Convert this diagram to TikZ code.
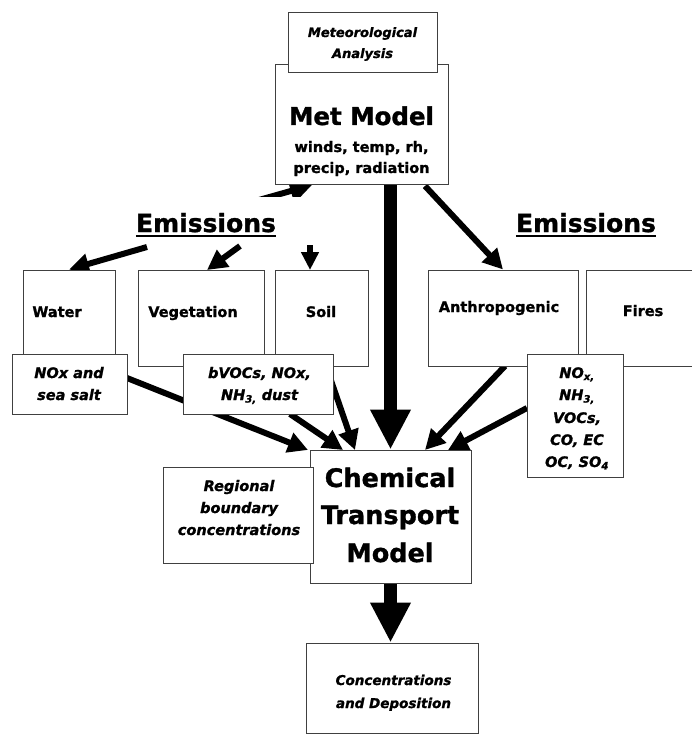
\documentclass[tikz,border=0pt]{standalone}
\usepackage{fontspec}
\setmainfont{DejaVu Sans}[BoldFeatures={FakeBold=1.2},BoldItalicFeatures={FakeBold=1.2}]
\usetikzlibrary{arrows.meta,calc}
\pgfdeclarelayer{back}
\pgfdeclarelayer{bg}
\pgfsetlayers{back,bg,main}
\begin{document}
\begin{tikzpicture}[x=1pt,y=-1pt,
  box/.style={draw=black!75,line width=1pt,fill=white,inner sep=0pt,rectangle},
  txt/.style={inner sep=0pt,anchor=base,font=\fontsize{14.5}{14.5}\selectfont\bfseries},
  itxt/.style={inner sep=0pt,anchor=base,font=\fontsize{14.5}{14.5}\selectfont\bfseries\itshape},
  bigtxt/.style={inner sep=0pt,anchor=base,font=\fontsize{25}{25}\selectfont\bfseries},
  arr/.style={line width=6pt,-{Triangle[length=20pt,width=20pt]}},
  bigarr/.style={line width=13pt,-{Triangle[length=40pt,width=38pt]}},
]
\useasboundingbox (0,0) rectangle (691,735);
\begin{pgfonlayer}{back}
\fill[white] (0,0) rectangle (691,735);
\end{pgfonlayer}

% ---------- boxes ----------
\node[box,minimum width=173,minimum height=120] (met) at (361.5,125) {};
\node[box,minimum width=149,minimum height=60] (metan) at (362.5,43) {};

\node[box,minimum width=92,minimum height=96] (water) at (69,318) {};
\node[box,minimum width=126,minimum height=96] (veg) at (201,318) {};
\node[box,minimum width=93,minimum height=96] (soil) at (321.5,318) {};
\node[box,minimum width=150,minimum height=96] (anth) at (503,318) {};
\node[box,minimum width=114,minimum height=96] (fires) at (643,318) {};

\node[box,minimum width=115,minimum height=60] (noxw) at (69.5,384) {};
\node[box,minimum width=150,minimum height=60] (bvoc) at (258,384) {};
\node[box,minimum width=96,minimum height=123] (noxr) at (575,415.5) {};

\node[box,minimum width=161,minimum height=133] (ctm) at (390.5,516.5) {};
\node[box,minimum width=150,minimum height=96] (reg) at (238,515) {};
\node[box,minimum width=172,minimum height=90] (conc) at (392,688) {};

% ---------- texts ----------
\node[itxt,font=\fontsize{13}{13}\selectfont\bfseries\itshape] (tma1) at (362.5,37) {Meteorological};
\node[itxt,font=\fontsize{13}{13}\selectfont\bfseries\itshape] (tma2) at (362.5,58) {Analysis};
\node[bigtxt,font=\fontsize{24.5}{24.5}\selectfont\bfseries] (tmet1) at (361.5,125) {Met Model};
\node[txt] (tmet2) at (361.5,152) {winds, temp, rh,};
\node[txt] (tmet3) at (361.5,173) {precip, radiation};

\node[bigtxt] (emL) at (206,232) {Emissions};
\node[bigtxt] (emR) at (586,232) {Emissions};
\draw[line width=2pt] ($(emL.base west)+(0,4)$) -- ($(emL.base east)+(0,4)$);
\draw[line width=2pt] ($(emR.base west)+(0,4)$) -- ($(emR.base east)+(0,4)$);

\node[txt] (twater) at (57,317) {Water};
\node[txt] (tveg) at (193,317) {Vegetation};
\node[txt] (tsoil) at (321,317) {Soil};
\node[txt] (tanth) at (499,312) {Anthropogenic};
\node[txt] (tfires) at (643,316) {Fires};

\node[itxt] (tnw1) at (69,378) {NOx and};
\node[itxt] (tnw2) at (69,400) {sea salt};
\node[itxt] (tbv1) at (259.5,378) {bVOCs, NOx,};
\node[itxt] (tbv2) at (259.5,400) {NH\textsubscript{3,} dust};

\node[itxt] (tnr1) at (577,378) {NO\textsubscript{x,}};
\node[itxt] (tnr2) at (577,400) {NH\textsubscript{3,}};
\node[itxt] (tnr3) at (577,423) {VOCs,};
\node[itxt] (tnr4) at (577,445) {CO, EC};
\node[itxt] (tnr5) at (577,467) {OC, SO\textsubscript{4}};

\node[bigtxt,font=\fontsize{25.5}{25.5}\selectfont\bfseries] (tct1) at (390,487) {Chemical};
\node[bigtxt,font=\fontsize{25.5}{25.5}\selectfont\bfseries] (tct2) at (390,524) {Transport};
\node[bigtxt,font=\fontsize{25.5}{25.5}\selectfont\bfseries] (tct3) at (390,562) {Model};

\node[itxt] (trg1) at (239,491) {Regional};
\node[itxt] (trg2) at (239,513) {boundary};
\node[itxt] (trg3) at (239,535) {concentrations};

\node[itxt,font=\fontsize{13.5}{13.5}\selectfont\bfseries\itshape] (tcd1) at (393.5,685) {Concentrations};
\node[itxt,font=\fontsize{13.5}{13.5}\selectfont\bfseries\itshape] (tcd2) at (393.5,708) {and Deposition};

% ---------- connectors ----------
\coordinate (sWater) at (147,247);
\coordinate (sVeg) at (240,246);
\coordinate (eVeg) at (207,270);
\coordinate (sSoil) at (310,245);
\coordinate (eSoil) at (310,270);
\coordinate (sAnth) at (425,186);
\coordinate (sUp) at (220,211);
\coordinate (eUp) at (312,185);
\coordinate (sBig) at (390.5,185);
\coordinate (sNw) at (127,378);
\coordinate (eNw) at (308,450);
\coordinate (sBv) at (290,414);
\coordinate (eBv) at (343,450);
\coordinate (sSo) at (326,366);
\coordinate (eSo) at (355,450);
\coordinate (sAn) at (505,366);
\coordinate (eAn) at (425,450);
\coordinate (sNr) at (527,408);
\coordinate (eNr) at (448,450);

\begin{pgfonlayer}{bg}
\draw[arr] (sWater) -- (water.north);
\draw[arr] (sVeg) -- (eVeg);
\draw[arr,-{Triangle[length=18pt,width=17pt]}] (sSoil) -- (eSoil);
\draw[arr] (sAnth) -- (anth.north);
\begin{scope}
  \clip (0,0) rectangle (691,197);
  \draw[arr,-{Triangle[length=22pt,width=24pt]}] (sUp) -- (eUp);
\end{scope}
\draw[bigarr] (sBig) -- (ctm.north);
\draw[bigarr] (ctm.south) -- (ctm.south |- conc.north);
\draw[arr] (sNw) -- (eNw);
\draw[arr] (sBv) -- (eBv);
\draw[arr] (sSo) -- (eSo);
\draw[arr] (sAn) -- (eAn);
\draw[arr] (sNr) -- (eNr);
\end{pgfonlayer}
\end{tikzpicture}
\end{document}
